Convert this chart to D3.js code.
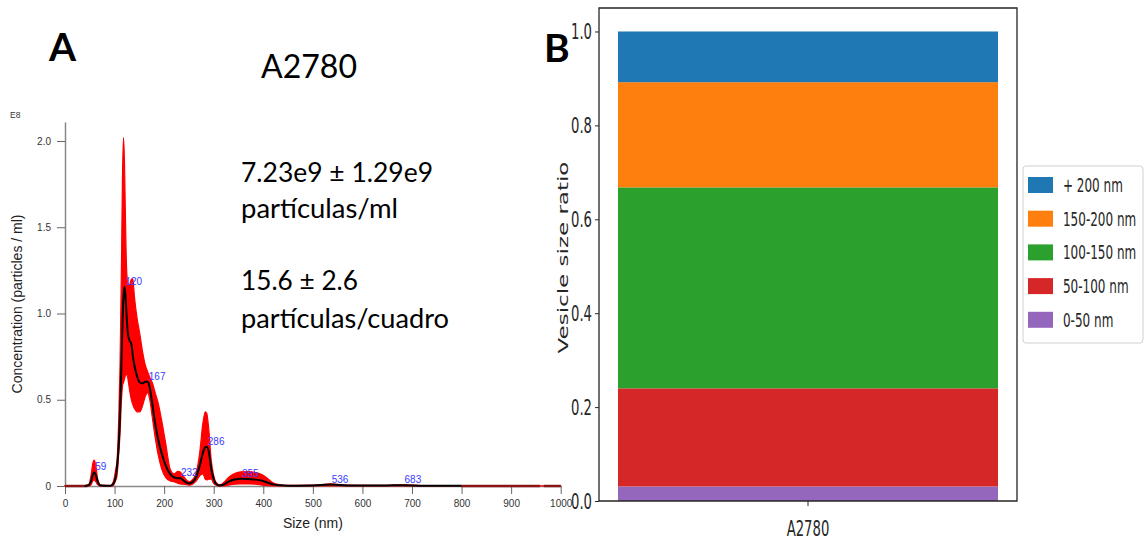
<!DOCTYPE html>
<html>
<head>
<meta charset="utf-8">
<script src="https://cdn.jsdelivr.net/npm/d3@7"></script>
<style>
  html, body { margin: 0; padding: 0; background: #fff; }
  svg { display: block; }
</style>
</head>
<body>
<div id="chart"></div>
<script>
// ---- Panel A: size distribution (concentration in E8 particles / ml) ----
const sizes = [0, 40, 48, 53, 56, 59, 62, 66, 72, 92,
  98, 102, 105, 108, 111, 114, 116, 118, 120, 122,
  124, 127, 130, 134, 137, 140, 145, 151, 157, 162,
  167, 171, 176, 182, 188, 195, 203, 212, 220, 228,
  233, 238, 245, 251, 258, 265, 272, 278, 283, 286,
  290, 295, 300, 305, 312, 320, 330, 342, 355, 370,
  385, 398, 410, 422, 435, 450, 500, 536, 570, 640,
  683, 720, 800, 1000];
const meanConc = [0, 0, 0.005, 0.03, 0.065, 0.08, 0.065, 0.025, 0.003, 0.002,
  0.015, 0.05, 0.11, 0.22, 0.42, 0.73, 0.95, 1.1, 1.155, 1.1,
  1.0, 0.88, 0.845, 0.82, 0.75, 0.7, 0.64, 0.6, 0.595, 0.605,
  0.605, 0.57, 0.48, 0.36, 0.27, 0.19, 0.12, 0.07, 0.05, 0.045,
  0.045, 0.035, 0.02, 0.015, 0.025, 0.055, 0.12, 0.19, 0.225, 0.228,
  0.2, 0.1, 0.04, 0.012, 0.003, 0.008, 0.025, 0.038, 0.042, 0.04,
  0.037, 0.03, 0.018, 0.008, 0.004, 0.002, 0.003, 0.008, 0.003, 0.003,
  0.005, 0.002, 0.001, 0];
const upperConc = [0.003, 0.003, 0.01, 0.07, 0.13, 0.15, 0.12, 0.04, 0.005, 0.003,
  0.03, 0.09, 0.15, 0.35, 0.7, 1.3, 1.8, 2.02, 1.88, 1.55,
  1.28, 1.17, 1.16, 1.2, 1.2, 1.1, 0.98, 0.88, 0.77, 0.7,
  0.66, 0.63, 0.6, 0.54, 0.48, 0.38, 0.25, 0.1, 0.07, 0.085,
  0.08, 0.06, 0.035, 0.025, 0.04, 0.08, 0.2, 0.36, 0.43, 0.42,
  0.33, 0.15, 0.06, 0.02, 0.006, 0.02, 0.05, 0.072, 0.082, 0.083,
  0.078, 0.065, 0.04, 0.015, 0.007, 0.004, 0.005, 0.012, 0.005, 0.004,
  0.007, 0.003, 0.002, 0.001];
const lowerConc = [0, 0, 0, 0.01, 0.03, 0.035, 0.025, 0.008, 0, 0,
  0.005, 0.03, 0.06, 0.17, 0.3, 0.5, 0.58, 0.6, 0.62, 0.64,
  0.65, 0.62, 0.56, 0.5, 0.47, 0.45, 0.43, 0.43, 0.47, 0.52,
  0.54, 0.5, 0.4, 0.28, 0.18, 0.1, 0.05, 0.03, 0.025, 0.015,
  0.012, 0.01, 0.008, 0.005, 0.012, 0.03, 0.06, 0.07, 0.04, 0.035,
  0.04, 0.04, 0.015, 0.005, 0, 0, 0.005, 0.01, 0.012, 0.012,
  0.01, 0.005, 0.002, 0, 0, 0, 0, 0, 0, 0,
  0, 0, 0, 0];
const peakSizes = [59, 120, 167, 232, 286, 355, 536, 683];
const peakValues = [0.08, 1.155, 0.605, 0.045, 0.228, 0.042, 0.008, 0.005];
const baselineSegments = [[0, 45], [800, 958], [966, 1000]];
const xTicksA = [0, 100, 200, 300, 400, 500, 600, 700, 800, 900, 1000];
const yTicksA = [0, 0.5, 1.0, 1.5, 2.0];
const statLines = ["7.23e9 \u00b1 1.29e9", "part\u00edculas/ml", "15.6 \u00b1 2.6", "part\u00edculas/cuadro"];

// ---- Panel B: stacked size ratio ----
const groups = ["A2780"];
const sizeBins = ["0-50 nm", "50-100 nm", "100-150 nm", "150-200 nm", "+ 200 nm"];
const binRatios = [0.031, 0.209, 0.428, 0.224, 0.108];
const binColors = ["#9467bd", "#d62728", "#2ca02c", "#ff7f0e", "#1f77b4"];
const yTicksB = [0, 0.2, 0.4, 0.6, 0.8, 1.0];

const width = 1146, height = 539;
const svg = d3.select('#chart').append('svg')
    .attr('width', width)
    .attr('height', height);

// ================= Panel A =================
const xA = d3.scaleLinear().domain([0, 1000]).range([65, 560.7]);
const yA = d3.scaleLinear().domain([0, 2.11]).range([486, 122]);

const gA = svg.append('g');

const xAxisA = gA.append('g')
    .attr('transform', `translate(0,${yA(0)})`)
    .call(d3.axisBottom(xA).tickValues(xTicksA).tickSize(8).tickSizeOuter(0).tickPadding(6)
        .tickFormat(d => String(d)));
xAxisA.select('.domain').attr('stroke', '#888').attr('stroke-width', 1.5);
xAxisA.selectAll('.tick line').attr('stroke', '#666');
xAxisA.selectAll('.tick text')
    .attr('font-family', 'Liberation Sans, Arial, sans-serif')
    .attr('font-size', 10).attr('fill', '#333');

const yAxisA = gA.append('g')
    .attr('transform', `translate(${xA(0)},0)`)
    .call(d3.axisLeft(yA).tickValues(yTicksA).tickSize(8).tickSizeOuter(0).tickPadding(6)
        .tickFormat(d => d === 0 ? '0' : d3.format('.1f')(d)));
yAxisA.select('.domain').attr('stroke', '#888').attr('stroke-width', 1.5);
yAxisA.selectAll('.tick line').attr('stroke', '#666');
yAxisA.selectAll('.tick text')
    .attr('font-family', 'Liberation Sans, Arial, sans-serif')
    .attr('font-size', 10).attr('fill', '#333');

const rows = sizes.map((s, i) => ({ size: s, mean: meanConc[i], hi: upperConc[i], lo: lowerConc[i] }));

// error band (mean +/- sd)
gA.append('path')
    .datum(rows)
    .attr('d', d3.area()
        .x(d => xA(d.size))
        .y0(d => yA(d.lo))
        .y1(d => yA(d.hi))
        .curve(d3.curveMonotoneX))
    .attr('fill', '#ff0000')
    .attr('stroke', '#ff0000')
    .attr('stroke-width', 1.2);

// dark red baseline where the band is flat
gA.selectAll('.baseline')
    .data(baselineSegments)
    .enter()
    .append('line')
    .attr('x1', d => xA(d[0]))
    .attr('x2', d => xA(d[1]))
    .attr('y1', yA(0))
    .attr('y2', yA(0))
    .attr('stroke', '#8b1414')
    .attr('stroke-width', 2.5);

// mean curve
gA.append('path')
    .datum(rows.filter(d => d.size >= 40 && d.size <= 800))
    .attr('d', d3.line()
        .x(d => xA(d.size))
        .y(d => yA(d.mean))
        .curve(d3.curveMonotoneX))
    .attr('fill', 'none')
    .attr('stroke', '#000')
    .attr('stroke-width', 2);

// peak labels
gA.selectAll('.peak')
    .data(peakSizes)
    .enter()
    .append('text')
    .attr('x', d => xA(d) + 1)
    .attr('y', (d, i) => yA(peakValues[i]) - 2)
    .attr('font-family', 'Liberation Sans, Arial, sans-serif')
    .attr('font-size', 10)
    .attr('fill', '#3b3bff')
    .text(d => d);

gA.append('text')
    .attr('x', 10).attr('y', 118)
    .attr('font-family', 'Liberation Sans, Arial, sans-serif')
    .attr('font-size', 8.5).attr('fill', '#333')
    .text('E8');

gA.append('text')
    .attr('transform', `translate(22,${(yA.range()[0] + yA.range()[1]) / 2}) rotate(-90)`)
    .attr('text-anchor', 'middle')
    .attr('font-family', 'Liberation Sans, Arial, sans-serif')
    .attr('font-size', 14).attr('fill', '#222')
    .text('Concentration (particles / ml)');

gA.append('text')
    .attr('x', (xA.range()[0] + xA.range()[1]) / 2).attr('y', 528)
    .attr('text-anchor', 'middle')
    .attr('font-family', 'Liberation Sans, Arial, sans-serif')
    .attr('font-size', 14).attr('fill', '#222')
    .text('Size (nm)');

// titles and stats
svg.append('text')
    .attr('x', 49).attr('y', 61)
    .attr('font-family', 'Lato, sans-serif').attr('font-weight', 'bold')
    .attr('font-size', 39).text('A');

svg.append('text')
    .attr('x', 261).attr('y', 78)
    .attr('font-family', 'Lato, sans-serif')
    .attr('font-size', 32).attr('textLength', 96).attr('lengthAdjust', 'spacingAndGlyphs')
    .text('A2780');

const statY = [182, 218, 290, 328];
const statW = [192, 157, 117, 208];
svg.selectAll('.stat')
    .data(statLines)
    .enter()
    .append('text')
    .attr('x', 241)
    .attr('y', (d, i) => statY[i])
    .attr('font-family', 'Lato, sans-serif')
    .attr('font-size', 26)
    .attr('textLength', (d, i) => statW[i])
    .attr('lengthAdjust', 'spacingAndGlyphs')
    .text(d => d);

svg.append('text')
    .attr('x', 544).attr('y', 62)
    .attr('font-family', 'Lato, sans-serif').attr('font-weight', 'bold')
    .attr('font-size', 39).text('B');

// ================= Panel B =================
// the matplotlib figure was squeezed horizontally, so draw it in a scaled group
const sx = 0.6;
const gB = svg.append('g').attr('transform', `scale(${sx},1)`);
const fontB = 'DejaVu Sans, sans-serif';

const xB = d3.scaleBand().domain(groups).range([599 / sx, 1017 / sx]).paddingOuter(0.05).paddingInner(0);
const yB = d3.scaleLinear().domain([0, 1.05]).range([501, 8]);

const table = groups.map(g => {
    const rec = { group: g };
    sizeBins.forEach((b, i) => { rec[b] = binRatios[i]; });
    return rec;
});
const stacked = d3.stack().keys(sizeBins)(table);

gB.selectAll('.layer')
    .data(stacked)
    .enter()
    .append('g')
    .attr('fill', (d, i) => binColors[i])
    .selectAll('rect')
    .data(d => d)
    .enter()
    .append('rect')
    .attr('x', d => xB(d.data.group))
    .attr('width', xB.bandwidth())
    .attr('y', d => yB(d[1]))
    .attr('height', d => yB(d[0]) - yB(d[1]));

// spines
gB.append('rect')
    .attr('x', xB.range()[0]).attr('y', yB.range()[1])
    .attr('width', xB.range()[1] - xB.range()[0])
    .attr('height', yB.range()[0] - yB.range()[1])
    .attr('fill', 'none').attr('stroke', '#262626').attr('stroke-width', 1.3)
    .attr('vector-effect', 'non-scaling-stroke');

const yAxisB = gB.append('g')
    .attr('transform', `translate(${xB.range()[0]},0)`)
    .call(d3.axisLeft(yB).tickValues(yTicksB).tickSize(4 / sx).tickSizeOuter(0)
        .tickPadding(3 / sx).tickFormat(d3.format('.1f')));
yAxisB.select('.domain').remove();
yAxisB.selectAll('.tick line').attr('stroke', '#262626').attr('vector-effect', 'non-scaling-stroke');
yAxisB.selectAll('.tick text')
    .attr('font-family', fontB).attr('font-size', 22).attr('fill', '#262626');

const xAxisB = gB.append('g')
    .attr('transform', `translate(0,${yB(0)})`)
    .call(d3.axisBottom(xB).tickSize(5).tickSizeOuter(0).tickPadding(14));
xAxisB.select('.domain').remove();
xAxisB.selectAll('.tick line').attr('stroke', '#262626').attr('vector-effect', 'non-scaling-stroke');
xAxisB.selectAll('.tick text')
    .attr('font-family', fontB).attr('font-size', 22).attr('fill', '#262626');

gB.append('text')
    .attr('transform', `translate(${568 / sx},${(yB.range()[0] + yB.range()[1]) / 2 + 3}) rotate(-90)`)
    .attr('text-anchor', 'middle')
    .attr('font-family', fontB).attr('font-size', 23).attr('fill', '#262626')
    .text('Vesicle size ratio');

// legend (top entry is the last bin)
const legendX = 1023 / sx, legendY = 166;
const legend = gB.append('g');
legend.append('rect')
    .attr('x', legendX).attr('y', legendY)
    .attr('width', 120 / sx).attr('height', 177)
    .attr('rx', 4).attr('fill', '#fff')
    .attr('stroke', '#d0d0d0').attr('stroke-width', 1)
    .attr('vector-effect', 'non-scaling-stroke');

const legendItems = sizeBins.map((b, i) => ({ label: b, color: binColors[i] })).reverse();
const legendRow = legend.selectAll('.item')
    .data(legendItems)
    .enter()
    .append('g')
    .attr('transform', (d, i) => `translate(${legendX + 5 / sx},${legendY + 11 + i * 33.7})`);
legendRow.append('rect')
    .attr('width', 25 / sx).attr('height', 16)
    .attr('fill', d => d.color);
legendRow.append('text')
    .attr('x', 35 / sx).attr('y', 15)
    .attr('font-family', fontB).attr('font-size', 20).attr('fill', '#262626')
    .text(d => d.label);
</script>
</body>
</html>
